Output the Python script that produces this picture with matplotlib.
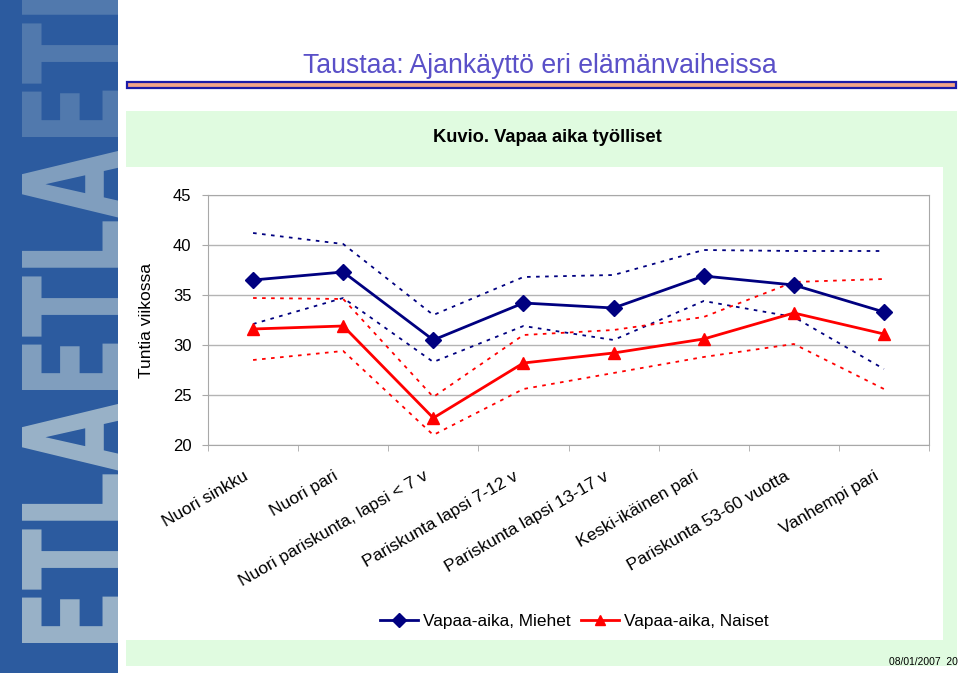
import matplotlib

matplotlib.use('Agg')
import matplotlib.pyplot as plt
from matplotlib import font_manager
from matplotlib.patches import Rectangle, PathPatch
from matplotlib.textpath import TextPath
from matplotlib.transforms import Affine2D
from matplotlib.lines import Line2D

# data (hours per week)
categories = ['Nuori sinkku', 'Nuori pari', 'Nuori pariskunta, lapsi < 7 v',
              'Pariskunta lapsi 7-12 v', 'Pariskunta lapsi 13-17 v',
              'Keski-ikäinen pari', 'Pariskunta 53-60 vuotta', 'Vanhempi pari']
miehet = [36.5, 37.3, 30.5, 34.2, 33.7, 36.9, 36.0, 33.3]
naiset = [31.6, 31.9, 22.7, 28.2, 29.2, 30.6, 33.2, 31.1]
miehet_yla = [41.2, 40.1, 33.0, 36.8, 37.0, 39.5, 39.4, 39.4]
miehet_ala = [32.1, 34.7, 28.3, 31.9, 30.5, 34.4, 32.8, 27.6]
naiset_yla = [34.7, 34.6, 24.8, 31.0, 31.5, 32.8, 36.3, 36.6]
naiset_ala = [28.5, 29.4, 21.0, 25.6, 27.2, 28.8, 30.1, 25.6]
y_ticks = [20, 25, 30, 35, 40, 45]

W, H = 960, 673
names = {f.name for f in font_manager.fontManager.ttflist}
has_narrow = 'Liberation Sans Narrow' in names
narrow = 'Liberation Sans Narrow' if has_narrow else 'Liberation Sans'
k = 1.0 if has_narrow else 0.82
plt.rcParams['font.family'] = ['Liberation Sans', 'DejaVu Sans']

fig = plt.figure(figsize=(W / 100, H / 100), dpi=100)

# slide background, pixel coordinates
bg = fig.add_axes([0, 0, 1, 1])
bg.set_xlim(0, W)
bg.set_ylim(H, 0)
bg.axis('off')
bg.add_patch(Rectangle((126, 111), 831, 555, color='#e0fbe0', lw=0))
bg.add_patch(Rectangle((118, 167), 825, 473, color='white', lw=0))
bg.add_patch(Rectangle((127, 82), 829, 6, facecolor='#f2a488',
                       edgecolor='#1a1aa8', lw=1.6))
bg.text(540, 73, 'Taustaa: Ajankäyttö eri elämänvaiheissa', ha='center',
        va='baseline', fontsize=23.4 * k, color='#5a50c8', family=narrow)
bg.text(547, 138, 'Kuvio. Vapaa aika työlliset', ha='center', va='center',
        fontsize=16.1 * k, fontweight='bold', family=narrow)
bg.text(958, 662, '08/01/2007  20', ha='right', va='center',
        fontsize=9 * k, family=narrow)

# left blue band with the ETLA letters
band = fig.add_axes([0, 0, 118 / W, 1])
band.set_xlim(0, 118)
band.set_ylim(0, H)
band.axis('off')
band.add_patch(Rectangle((0, 0), 118, H, color='#2c5b9f', lw=0))
tp = TextPath((0, 0), 'ETLA', size=100,
              prop=font_manager.FontProperties(family='DejaVu Sans', weight='bold'))
ext = tp.get_extents()
sx = 240 / ext.width
sy = 100 / ext.height
for start, alpha in [(30, 0.8), (283, 0.62), (536, 0.28)]:
    tr = (Affine2D().translate(-ext.x0, -ext.y0).scale(sx, sy)
          .rotate_deg(90).translate(122, start))
    band.add_patch(PathPatch(tr.transform_path(tp), facecolor='#b4c8d2',
                             edgecolor='none', alpha=alpha))

# chart
x0, x1, y0, y1 = 208, 929, 195, 445
ax = fig.add_axes([x0 / W, (H - y1) / H, (x1 - x0) / W, (y1 - y0) / H])
xs = list(range(1, len(categories) + 1))
dash = (0, (2, 3))
ax.plot(xs, miehet_yla, color='#000080', lw=1.3, ls=dash)
ax.plot(xs, miehet_ala, color='#000080', lw=1.3, ls=dash)
ax.plot(xs, naiset_yla, color='#ff0000', lw=1.3, ls=dash)
ax.plot(xs, naiset_ala, color='#ff0000', lw=1.3, ls=dash)
ax.plot(xs, miehet, color='#000080', lw=2.0, marker='D', ms=8, zorder=4)
ax.plot(xs, naiset, color='#ff0000', lw=2.0, marker='^', ms=8, zorder=4)

ax.set_xlim(0.5, len(categories) + 0.5)
ax.set_ylim(20, 45)
ax.set_yticks(y_ticks)
ax.grid(axis='y', color='#b4b4b4', lw=1)
ax.set_axisbelow(True)
for s in ax.spines.values():
    s.set_color('#a8a8a8')
# labels sit a little left of the category centre, like in the original
ax.set_xticks([x - 0.11 for x in xs])
ax.set_xticklabels(categories, rotation=30, ha='right', va='top',
                   rotation_mode='anchor', fontsize=12.5)
ax.set_xticks([i + 0.5 for i in range(len(categories) + 1)], minor=True)
ax.tick_params(axis='x', which='major', length=0, pad=17)
ax.tick_params(axis='x', which='minor', length=4, color='#a8a8a8')
ax.tick_params(axis='y', length=4, color='#a8a8a8', labelsize=12, pad=8)
ax.set_ylabel('Tuntia viikossa', fontsize=12.5)
ax.yaxis.set_label_coords(-0.075, 0.5)

handles = [Line2D([], [], color='#000080', lw=2.0, marker='D', ms=7),
           Line2D([], [], color='#ff0000', lw=2.0, marker='^', ms=7)]
fig.legend(handles, ['Vapaa-aika, Miehet', 'Vapaa-aika, Naiset'],
           loc='center', bbox_to_anchor=(574 / W, 1 - 621 / H), ncol=2,
           frameon=False, fontsize=12.4, handlelength=2.2, handletextpad=0.3,
           columnspacing=0.6)

plt.savefig('out.png', dpi=100)
